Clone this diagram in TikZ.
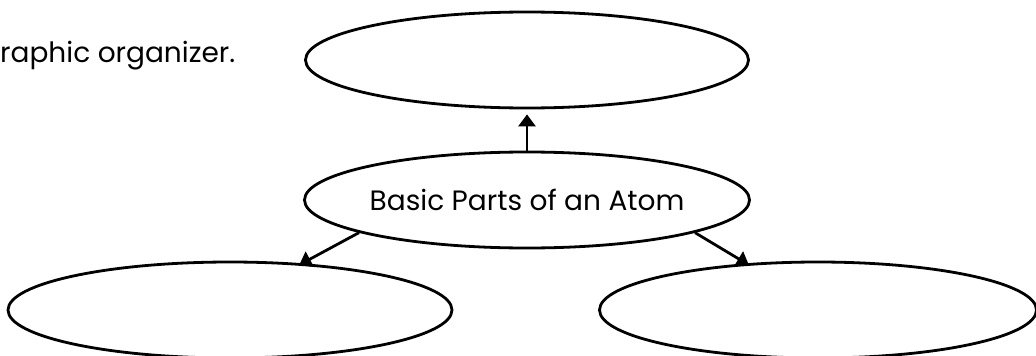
\documentclass[tikz,border=0pt]{standalone}
\usepackage{fontspec}
\setmainfont{Poppins}
\usetikzlibrary{shapes.geometric,arrows.meta}
\begin{document}
\begin{tikzpicture}[x=1pt,y=-1pt,
  bubble/.style={draw=black,line width=2.8pt,ellipse,minimum width=#1,minimum height=96pt,inner sep=0pt},
  link/.style={draw=black,line width=2.8pt,-{Triangle[length=12pt,width=17pt]}}]
\useasboundingbox (0,0) rectangle (1036,356);
\clip (0,0) rectangle (1036,356);
\node[anchor=base west,inner sep=0pt,font=\fontsize{28}{32}\selectfont] (intro) at (0,62) {raphic organizer.};
\node[bubble=443pt] (top) at (527,60) {};
\node[bubble=443pt,font=\fontsize{28}{32}\selectfont] (center) at (527,200) {Basic Parts of an Atom};
\node[bubble=444pt] (left) at (230,310) {};
\node[bubble=437pt] (right) at (818,310) {};
\draw[link] (center.north) -- ([yshift=-5pt]top.south);
\draw[link] (center.-169) -- ([shift={(2pt,-2pt)}]left.35);
\draw[link] (center.-11) -- ([shift={(-2pt,-2pt)}]right.145);
\end{tikzpicture}
\end{document}
